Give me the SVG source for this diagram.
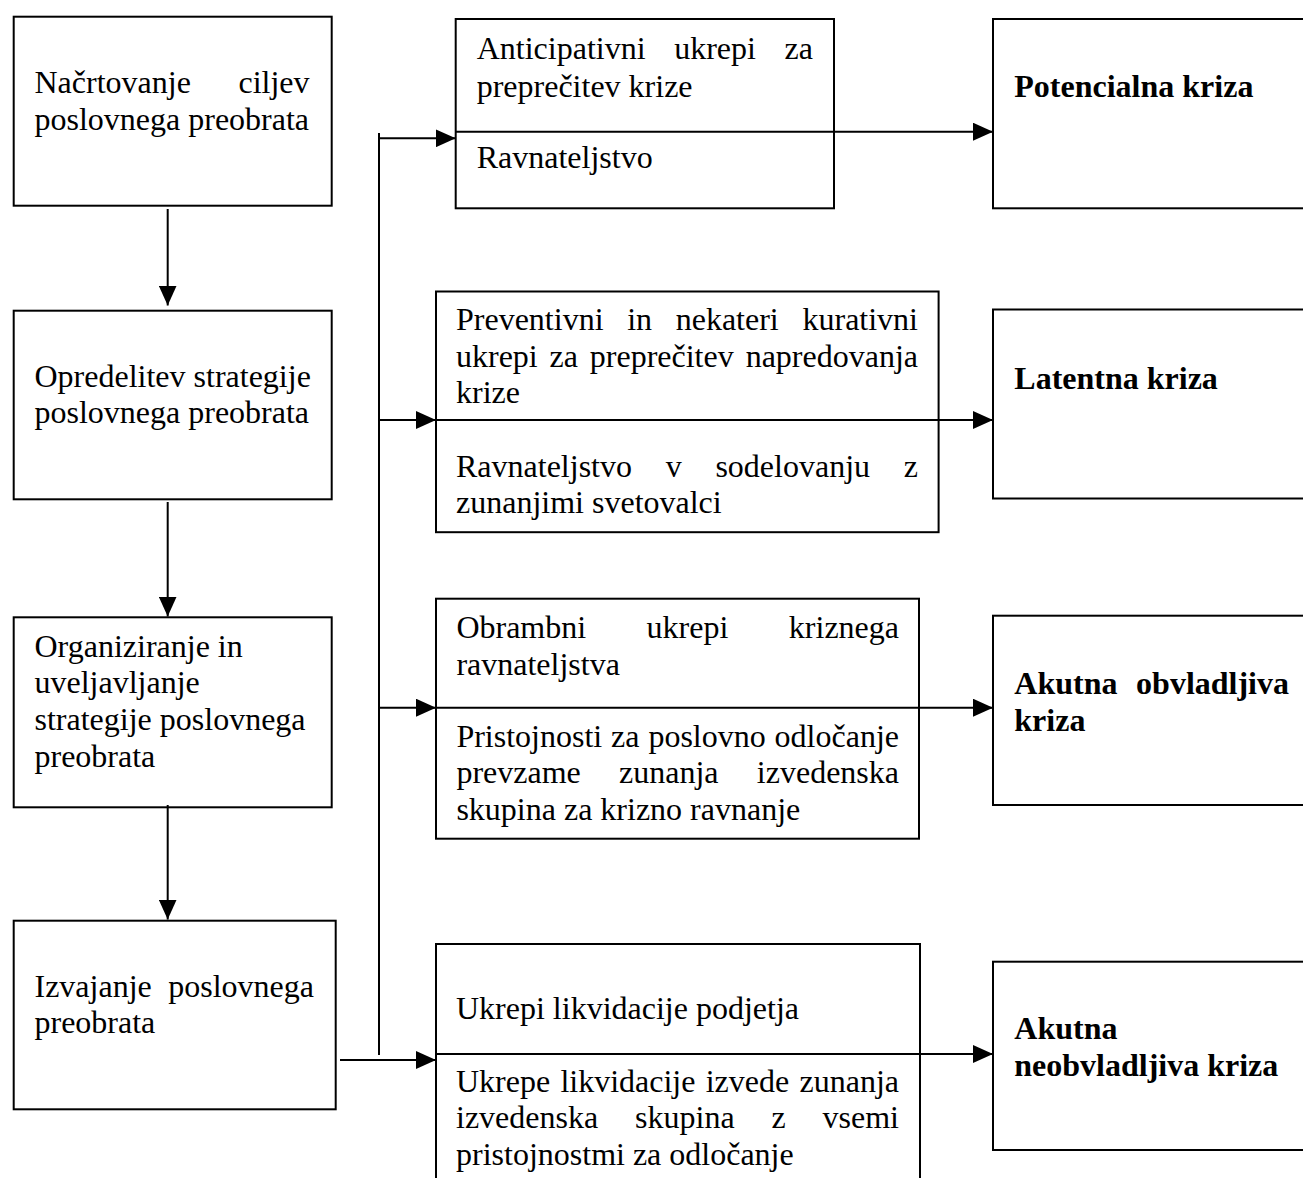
<svg xmlns="http://www.w3.org/2000/svg" width="1303" height="1178" viewBox="0 0 1303 1178">
<style>
.box{fill:#fff;stroke:#000;stroke-width:2}
.div{stroke:#000;stroke-width:2;fill:none}
.con{stroke:#000;stroke-width:2;fill:none}
text{font-family:"Liberation Serif","Times New Roman",serif;font-size:32px;fill:#000}
.b{font-weight:bold}
.e{text-anchor:end}
</style>
<defs>
<marker id="ah" viewBox="0 0 20 18" refX="20" refY="9" markerWidth="20" markerHeight="18" markerUnits="userSpaceOnUse" orient="auto">
<path d="M0,0 L20,9 L0,18 z" fill="#000"/>
</marker>
</defs>
<rect x="0" y="0" width="1303" height="1178" fill="#fff"/>

<g id="n1">
<rect class="box" x="13.7" y="16.7" width="318" height="189"/>
<text x="34.5" y="93">Načrtovanje</text>
<text class="e" x="309.5" y="93">ciljev</text>
<text x="34.5" y="130">poslovnega preobrata</text>
</g>

<g id="n2">
<rect class="box" x="13.7" y="310.7" width="318" height="188.6"/>
<text x="34.5" y="386.7">Opredelitev strategije</text>
<text x="34.5" y="423.3">poslovnega preobrata</text>
</g>

<g id="n3">
<rect class="box" x="13.7" y="617.3" width="318" height="190"/>
<text x="34.5" y="656.7">Organiziranje in</text>
<text x="34.5" y="693.3">uveljavljanje</text>
<text x="34.5" y="730">strategije poslovnega</text>
<text x="34.5" y="766.7">preobrata</text>
</g>

<g id="n4">
<rect class="box" x="13.7" y="920.7" width="322" height="188.6"/>
<text x="34.5" y="996.7">Izvajanje</text>
<text class="e" x="314" y="996.7">poslovnega</text>
<text x="34.5" y="1033.3">preobrata</text>
</g>

<g id="a1">
<rect class="box" x="455.7" y="19" width="378.3" height="189.3"/>
<line class="div" x1="455.7" y1="131.7" x2="834" y2="131.7"/>
<text x="476.7" y="59.3">Anticipativni</text>
<text x="674.2" y="59.3">ukrepi</text>
<text class="e" x="813" y="59.3">za</text>
<text x="476.7" y="96.7">preprečitev krize</text>
<text x="476.7" y="168.3">Ravnateljstvo</text>
</g>

<g id="a2">
<rect class="box" x="436" y="291.5" width="502.6" height="240.7"/>
<line class="div" x1="436" y1="420" x2="938.6" y2="420"/>
<text x="456" y="330">Preventivni</text>
<text x="627.2" y="330">in</text>
<text x="675.7" y="330">nekateri</text>
<text class="e" x="918" y="330">kurativni</text>
<text x="456" y="366.7">ukrepi</text>
<text x="549.6" y="366.7">za</text>
<text x="589.8" y="366.7">preprečitev</text>
<text class="e" x="918" y="366.7">napredovanja</text>
<text x="456" y="403.3">krize</text>
<text x="456" y="476.7">Ravnateljstvo</text>
<text x="665.7" y="476.7">v</text>
<text x="715.4" y="476.7">sodelovanju</text>
<text class="e" x="918" y="476.7">z</text>
<text x="456" y="513.3">zunanjimi svetovalci</text>
</g>

<g id="a3">
<rect class="box" x="436" y="598.7" width="483" height="240"/>
<line class="div" x1="436" y1="707.7" x2="919" y2="707.7"/>
<text x="456.4" y="638">Obrambni</text>
<text x="646.6" y="638">ukrepi</text>
<text class="e" x="899" y="638">kriznega</text>
<text x="456.4" y="675">ravnateljstva</text>
<text x="456.4" y="746.7">Pristojnosti</text>
<text x="611.1" y="746.7">za</text>
<text x="648.4" y="746.7">poslovno</text>
<text class="e" x="899" y="746.7">odločanje</text>
<text x="456.4" y="783">prevzame</text>
<text x="619" y="783">zunanja</text>
<text class="e" x="899" y="783">izvedenska</text>
<text x="456.4" y="820">skupina za krizno ravnanje</text>
</g>

<g id="a4">
<rect class="box" x="436" y="944" width="484" height="300"/>
<line class="div" x1="436" y1="1054" x2="920" y2="1054"/>
<text x="456" y="1019">Ukrepi likvidacije podjetja</text>
<text x="456" y="1091.7">Ukrepe</text>
<text x="560.4" y="1091.7">likvidacije</text>
<text x="705.7" y="1091.7">izvede</text>
<text class="e" x="899" y="1091.7">zunanja</text>
<text x="456" y="1128.3">izvedenska</text>
<text x="635.1" y="1128.3">skupina</text>
<text x="771.6" y="1128.3">z</text>
<text class="e" x="899" y="1128.3">vsemi</text>
<text x="456" y="1165">pristojnostmi za odločanje</text>
</g>

<g id="p1">
<rect class="box" x="993" y="19" width="330" height="189.3"/>
<text class="b" x="1014.3" y="96.7">Potencialna kriza</text>
</g>

<g id="p2">
<rect class="box" x="993" y="309.5" width="330" height="189"/>
<text class="b" x="1014.3" y="389">Latentna kriza</text>
</g>

<g id="p3">
<rect class="box" x="993" y="615.7" width="330" height="189.3"/>
<text class="b" x="1014.3" y="694">Akutna</text>
<text class="b e" x="1289" y="694">obvladljiva</text>
<text class="b" x="1014.3" y="731">kriza</text>
</g>

<g id="p4">
<rect class="box" x="993" y="961.7" width="330" height="188.3"/>
<text class="b" x="1014.3" y="1039">Akutna</text>
<text class="b" x="1014.3" y="1075.7">neobvladljiva kriza</text>
</g>

<g id="connectors">
<path class="con" d="M167.7,209 L167.7,305.5" marker-end="url(#ah)"/>
<path class="con" d="M167.7,502 L167.7,616.5" marker-end="url(#ah)"/>
<path class="con" d="M167.7,805 L167.7,919.5" marker-end="url(#ah)"/>
<path class="con" d="M379,133 L379,1055"/>
<path class="con" d="M379,138.3 L455.7,138.3" marker-end="url(#ah)"/>
<path class="con" d="M379,420 L436,420" marker-end="url(#ah)"/>
<path class="con" d="M379,707.7 L436,707.7" marker-end="url(#ah)"/>
<path class="con" d="M340,1060 L436,1060" marker-end="url(#ah)"/>
<path class="con" d="M834,131.7 L993,131.7" marker-end="url(#ah)"/>
<path class="con" d="M938.6,420 L993,420" marker-end="url(#ah)"/>
<path class="con" d="M919,707.7 L993,707.7" marker-end="url(#ah)"/>
<path class="con" d="M920,1054 L993,1054" marker-end="url(#ah)"/>
</g>
</svg>
